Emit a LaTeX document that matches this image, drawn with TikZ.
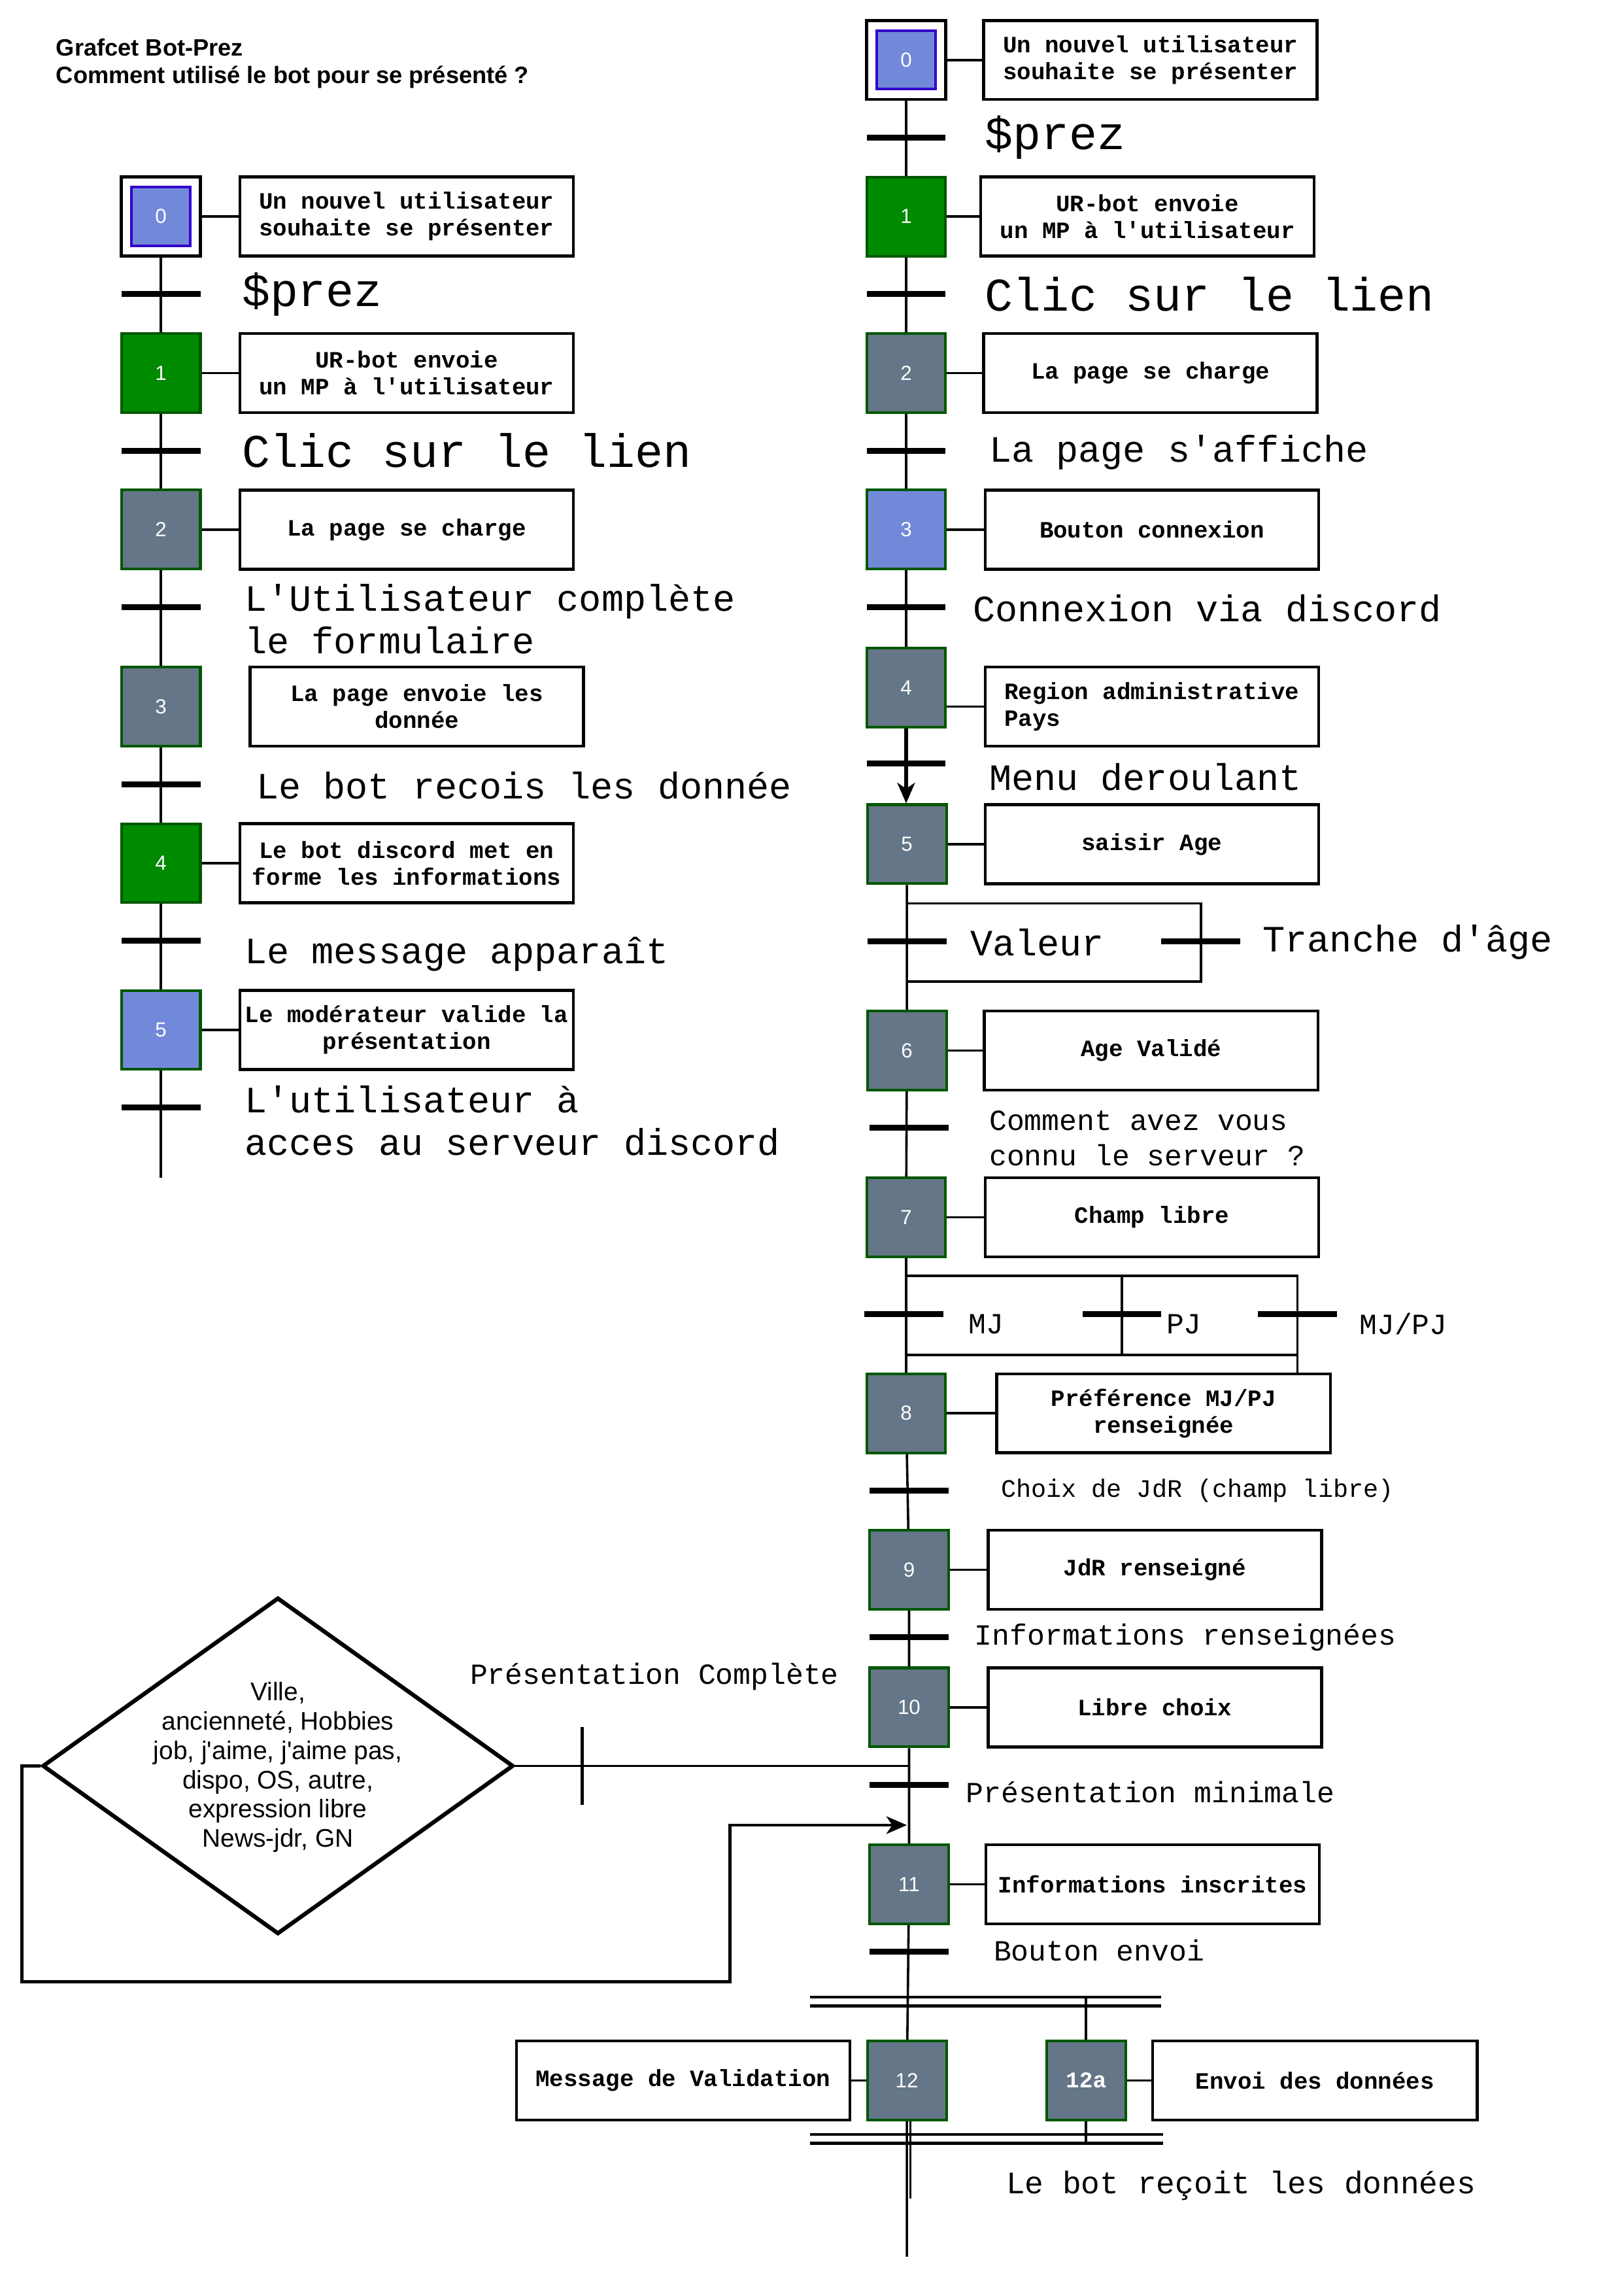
\documentclass[tikz,border=0pt]{standalone}
\usepackage{fontspec}
\setmainfont{Liberation Sans}
\setmonofont{Liberation Mono}
\usetikzlibrary{shapes.geometric,arrows.meta}

\definecolor{blurple}{HTML}{7289DA}
\definecolor{blueline}{HTML}{3300CC}
\definecolor{grnfill}{HTML}{008A00}
\definecolor{grnline}{HTML}{005700}
\definecolor{grayfill}{HTML}{647687}

\tikzset{
  stepbox/.style={draw=grnline, line width=0.9pt, minimum width=27pt, minimum height=27pt,
    inner sep=0pt, text=white, font=\fontsize{7pt}{8pt}\selectfont},
  greenstep/.style={stepbox, fill=grnfill},
  graystep/.style={stepbox, fill=grayfill},
  bluestep/.style={stepbox, fill=blurple},
  initstep/.style={draw, line width=1pt, minimum width=27pt, minimum height=27pt, inner sep=0pt},
  initinner/.style={stepbox, draw=blueline, fill=blurple, minimum width=20pt, minimum height=20pt},
  action/.style={draw, line width=1pt, minimum width=114pt, minimum height=27pt, inner sep=1pt,
    align=center, font=\ttfamily\bfseries\fontsize{8pt}{9.2pt}\selectfont},
  tbar/.style={fill=black, minimum width=27pt, minimum height=2pt, inner sep=0pt},
  vbar/.style={fill=black, minimum width=1pt, minimum height=26.5pt, inner sep=0pt},
  cond/.style={anchor=west, inner sep=0pt, align=left, font=\ttfamily\fontsize{12.7pt}{14.6pt}\selectfont},
  bigcond/.style={cond, font=\ttfamily\fontsize{16pt}{18pt}\selectfont},
  smallcond/.style={cond, font=\ttfamily\fontsize{10pt}{12pt}\selectfont},
  tinycond/.style={cond, font=\ttfamily\fontsize{8.6pt}{10pt}\selectfont},
  decision/.style={diamond, draw, line width=1.4pt, minimum width=161pt, minimum height=115pt, inner sep=0pt},
  diatext/.style={align=center, inner sep=0pt, font=\fontsize{8.7pt}{10pt}\selectfont},
  flow/.style={line width=0.8pt},
  sync/.style={line width=1pt},
  tip/.style={-{Stealth[length=7pt,width=6pt,inset=2pt]}},
}

\begin{document}
\begin{tikzpicture}[x=0.5pt,y=-0.5pt]
\useasboundingbox (0,0) rectangle (1110,1568);

\node[anchor=north west, inner sep=0pt, align=left, font=\bfseries\fontsize{8.1pt}{9.4pt}\selectfont] (title) at (38,26) {Grafcet Bot-Prez\\Comment utilisé le bot pour se présenté ?};

\node[initstep] (L0) at (110,148) {};
\node[initinner] (L0i) at (L0) {0};
\node[action] (LA0) at (278,148) {Un nouvel utilisateur\\souhaite se présenter};
\node[tbar] (Lt1) at (110,201) {};
\node[bigcond] (Lc1) at (165,201) {\$prez};
\node[greenstep] (L1) at (110,255) {1};
\node[action] (LA1) at (278,255) {UR-bot envoie\\un MP à l'utilisateur};
\node[tbar] (Lt2) at (110,308) {};
\node[bigcond] (Lc2) at (165,308) {Clic sur le lien};
\node[graystep] (L2) at (110,362) {2};
\node[action] (LA2) at (278,362) {La page se charge};
\node[tbar] (Lt3) at (110,415) {};
\node[cond] (Lc3) at (167,423) {L'Utilisateur complète\\le formulaire};
\node[graystep] (L3) at (110,483) {3};
\node[action] (LA3) at (285,483) {La page envoie les\\donnée};
\node[tbar] (Lt4) at (110,536) {};
\node[cond] (Lc4) at (175,537) {Le bot recois les donnée};
\node[greenstep] (L4) at (110,590) {4};
\node[action] (LA4) at (278,590) {Le bot discord met en\\forme les informations};
\node[tbar] (Lt5) at (110,643) {};
\node[cond] (Lc5) at (167,652) {Le message apparaît};
\node[bluestep] (L5) at (110,704) {5};
\node[action] (LA5) at (278,704) {Le modérateur valide la\\présentation};
\node[tbar] (Lt6) at (110,757) {};
\node[cond] (Lc6) at (167,766) {L'utilisateur à\\acces au serveur discord};
\coordinate (Lend) at (110,805);

\draw[flow] (L0) -- (L1) -- (L2) -- (L3) -- (L4) -- (L5) -- (Lend);
\draw[flow] (L0) -- (LA0);
\draw[flow] (L1) -- (LA1);
\draw[flow] (L2) -- (LA2);
\draw[flow] (L4) -- (LA4);
\draw[flow] (L5) -- (LA5);

\node[initstep] (R0) at (619.5,41) {};
\node[initinner] (R0i) at (R0) {0};
\node[action] (RA0) at (786.5,41) {Un nouvel utilisateur\\souhaite se présenter};
\node[tbar] (Rt1) at (619.5,94) {};
\node[bigcond] (Rc1) at (673,94) {\$prez};
\node[greenstep] (R1) at (619.5,148) {1};
\node[action] (RA1) at (784.5,148) {UR-bot envoie\\un MP à l'utilisateur};
\node[tbar] (Rt2) at (619.5,201) {};
\node[bigcond] (Rc2) at (673,201) {Clic sur le lien};
\node[graystep] (R2) at (619.5,255) {2};
\node[action] (RA2) at (786.5,255) {La page se charge};
\node[tbar] (Rt3) at (619.5,308) {};
\node[cond] (Rc3) at (676,309) {La page s'affiche};
\node[bluestep] (R3) at (619.5,362) {3};
\node[action] (RA3) at (787.5,362) {Bouton connexion};
\node[tbar] (Rt4) at (619.5,415) {};
\node[cond] (Rc4) at (665,416) {Connexion via discord};
\node[graystep] (R4) at (619.5,470) {4};
\node[action, align=left] (RA4) at (787.5,483) {Region administrative\\Pays};
\node[tbar] (Rt5) at (619.5,522) {};
\node[cond] (Rc5) at (676,531) {Menu deroulant};
\node[graystep] (R5) at (620,577) {5};
\node[action] (RA5) at (787.5,577) {saisir Age};
\coordinate (Ror1) at (821,617.5);
\coordinate (Ror2) at (821,671);
\node[tbar] (Rt6) at (620,643.5) {};
\node[cond] (Rc6) at (663,644) {Valeur};
\node[tbar] (Rt6b) at (821,643.5) {};
\node[cond] (Rc6b) at (863,644) {Tranche d'âge};
\node[graystep] (R6) at (620,718) {6};
\node[action] (RA6) at (787,718) {Age Validé};
\node[tbar] (Rt7) at (621.5,771) {};
\node[smallcond] (Rc7) at (676,778) {Comment avez vous\\connu le serveur ?};
\node[graystep] (R7) at (619.5,832) {7};
\node[action] (RA7) at (787.5,832) {Champ libre};
\coordinate (Rmj) at (767,872);
\coordinate (Rmp) at (887,872);
\coordinate (Rjoin) at (620,926);
\node[tbar] (Rt8) at (618,898) {};
\node[smallcond] (Rc8) at (662,905) {MJ};
\node[tbar] (Rt8b) at (767,898) {};
\node[smallcond] (Rc8b) at (797,905) {PJ};
\node[tbar] (Rt8c) at (887,898) {};
\node[smallcond] (Rc8c) at (929,905) {MJ/PJ};
\node[graystep] (R8) at (619.5,966) {8};
\node[action] (RA8) at (795.5,966) {Préférence MJ/PJ\\renseignée};
\node[tbar] (Rt9) at (621.5,1019) {};
\node[tinycond] (Rc9) at (684,1019) {Choix de JdR (champ libre)};
\node[graystep] (R9) at (621.5,1073) {9};
\node[action] (RA9) at (789.5,1073) {JdR renseigné};
\node[tbar] (Rt10) at (621.5,1119) {};
\node[smallcond] (Rc10) at (666,1119) {Informations renseignées};
\node[graystep] (R10) at (621.5,1167) {10};
\node[action] (RA10) at (789.5,1167) {Libre choix};
\coordinate (Rdia) at (621.5,1207);
\node[tbar] (Rt11) at (621.5,1220) {};
\node[smallcond] (Rc11) at (660,1225) {Présentation minimale};
\coordinate (Rback) at (620,1247.5);
\node[graystep] (R11) at (621.5,1288) {11};
\node[action] (RA11) at (788,1288) {Informations inscrites};
\node[tbar] (Rt12) at (621.5,1334) {};
\node[smallcond] (Rc12) at (679,1333) {Bouton envoi};
\coordinate (Rs1) at (554,1365);
\coordinate (Rs2) at (554,1371);
\node[graystep] (R12) at (620,1422) {12};
\node[graystep, font=\ttfamily\bfseries\fontsize{7.7pt}{8pt}\selectfont] (R12a) at (742.5,1422) {12a};
\node[action, minimum width=111pt] (RA12a) at (899,1422) {Envoi des données};
\node[action] (LA12) at (467,1422) {Message de Validation};
\coordinate (Rs3) at (554,1459);
\coordinate (Rs4) at (554,1465);
\coordinate (Rend) at (620,1542.5);
\node[cond, font=\ttfamily\fontsize{10.7pt}{12pt}\selectfont] (Rc13) at (687.5,1494) {Le bot reçoit les données};

\node[decision] (dia) at (190,1207) {};
\node[diatext] (diatxt) at (190,1208) {Ville,\\ancienneté, Hobbies\\job, j\textquotesingle aime, j\textquotesingle aime pas,\\dispo, OS, autre,\\expression libre\\News-jdr, GN};
\node[vbar] (Pbar) at (398,1207) {};
\node[smallcond] (Pc) at (321,1146) {Présentation Complète};

\draw[flow] (R0) -- (R1) -- (R2) -- (R3) -- (R4);
\draw[line width=1.4pt, tip] (R4) -- (R4.south |- R5.north);
\draw[flow] (R5) -- (R6) -- (R7);
\draw[flow] (R5.south |- Ror1) -- (Ror1) -- (Ror2) -- (R6.north |- Ror2);
\draw[flow] (R7) -- (R8);
\draw[flow] (R7.south |- Rmj) -- (Rmp) -- (Rmp |- RA8.north);
\draw[flow] (Rmj) -- (Rmj |- Rjoin);
\draw[flow] (Rjoin) -- (Rjoin -| Rmp);
\draw[flow] (R8) -- (R9) -- (R10) -- (R11) -- (R12) -- (Rend);
\draw[flow] ([xshift=1.25pt]R12.south) -- ++(0,53);
\draw[flow] (dia.east) -- (Rdia);
\draw[sync, tip] (dia.west) -- (15,1207) |- (499,1354.5) |- (Rback);
\draw[sync] (Rs1) -- ++(240,0) (Rs2) -- ++(240,0);
\draw[sync] (Rs3) -- ++(241,0) (Rs4) -- ++(241,0);
\draw[flow] (R12a.north) -- (R12a.north |- Rs1);
\draw[flow] (R12a.south) -- (R12a.south |- Rs4);

\draw[flow] (R0) -- (RA0);
\draw[flow] (R1) -- (RA1);
\draw[flow] (R2) -- (RA2);
\draw[flow] (R3) -- (RA3);
\draw[flow] (R4.east |- RA4) -- (RA4);
\draw[flow] (R5) -- (RA5);
\draw[flow] (R6) -- (RA6);
\draw[flow] (R7) -- (RA7);
\draw[flow] (R8) -- (RA8);
\draw[flow] (R9) -- (RA9);
\draw[flow] (R10) -- (RA10);
\draw[flow] (R11) -- (RA11);
\draw[flow] (R12) -- (LA12);
\draw[flow] (R12a) -- (RA12a);
\end{tikzpicture}
\end{document}
